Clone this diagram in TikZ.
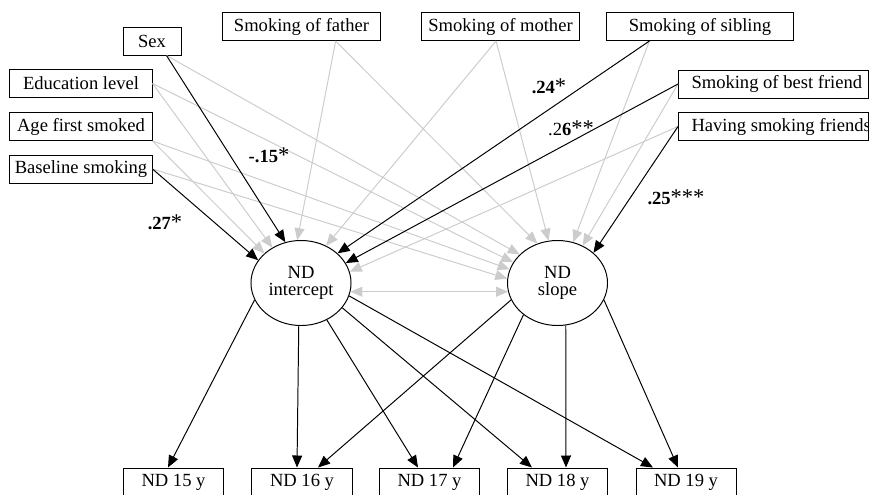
\documentclass[tikz,border=0pt]{standalone}
\usepackage{fontspec}
\setmainfont{Liberation Serif}
\usetikzlibrary{arrows.meta,shapes.geometric}
\newcommand\colorSig{black}
\newcommand\colorNonsig{black!20}
\newcommand\px{0.025cm}
\newcommand\tipSize{length=0.3cm,width=0.25cm}
\newcommand\sigStar{{\fontsize{16}{16}\selectfont*}}

\begin{document}
\begin{tikzpicture}[x=\px, y=-\px,
	every node/.style={font=\fontsize{13.2}{15}\selectfont},
	varbox/.style={draw, line width=0.7pt, minimum height=0.7cm, inner sep=0pt},
	latent/.style={draw, ellipse, line width=0.7pt, minimum width=2.5cm, minimum height=2.125cm,
		inner sep=0pt, align=center, font=\fontsize{13.2}{12}\selectfont},
	sig/.style={draw=\colorSig, line width=0.7pt, -{Triangle[\tipSize]}},
	nonsig/.style={draw=\colorNonsig, line width=0.7pt, -{Triangle[\tipSize]}},
	coef/.style={inner sep=0pt}]
	\useasboundingbox (0,0) rectangle (869,494);
	\clip (0,0) rectangle (869,494);
	
	% predictors
	\node[varbox, minimum width=1.45cm] (sex) at (152,41) {Sex};
	\node[varbox, minimum width=3.55cm] (edu) at (81,83.5) {Education level};
	\node[varbox, minimum width=3.55cm] (age) at (81,126.5) {Age first smoked};
	\node[varbox, minimum width=3.55cm] (base) at (81,169) {Baseline smoking};
	\node[varbox, minimum width=3.925cm] (father) at (301.5,26.5) {Smoking of father};
	\node[varbox, minimum width=3.925cm] (mother) at (500.5,26.5) {Smoking of mother};
	\node[varbox, minimum width=4.65cm] (sibling) at (700,26.5) {Smoking of sibling};
	\node[varbox, inner xsep=0.325cm, anchor=west] (best) at (678,84) {\makebox[4.1cm][l]{Smoking of best friend}};
	\node[varbox, inner xsep=0.325cm, anchor=west] (having) at (678,126.5) {\makebox[4.1cm][l]{Having smoking friends}};
	
	% growth factors
	\node[latent] (int) at (301,283) {ND\\intercept};
	\node[latent] (slope) at (557.5,283) {ND\\slope};
	
	% outcomes
	\foreach \i/\x in {15/173.5, 16/302, 17/429.5, 18/557.5, 19/686}{
		\node[varbox, minimum width=2.5cm] (nd\i) at (\x,482) {ND \i\ y};
	}
	
	% non-significant paths
	\draw[nonsig] (edu.east) to (int.129);
	\draw[nonsig] (age.south east) to (int.141);
	\draw[nonsig] (father.-23) to (int.95);
	\draw[nonsig] (mother.-107) to (int.56);
	\draw[nonsig] (having.west) to (int.13);
	\foreach \src/\ang in {sex.-45/143, edu.east/155, age.south east/164, base.east/175,
		father.-23/117, mother.-107/102, sibling.-164/69, best.west/56}{
		\draw[nonsig] (\src) to (slope.\ang);
	}
	\draw[nonsig, {Triangle[\tipSize]}-{Triangle[\tipSize]}] (int.-10) to (slope.190);
	
	% significant paths
	\draw[sig] (sex.-45) to (int.111);
	\draw[sig] (base.east) to (int.152);
	\draw[sig] (sibling.-164) to (int.39);
	\draw[sig] (best.west) to (int.24);
	\draw[sig] (having.west) to (slope.40);
	
	\node[coef] (cSex) at (269,155) {\textbf{-.15}\sigStar};
	\node[coef] (cBase) at (165,222) {\textbf{.27}\sigStar};
	\node[coef] (cSibling) at (549,86) {\textbf{.24}\sigStar};
	\node[coef] (cBest) at (571,128) {.2\textbf{6}\sigStar\sigStar};
	\node[coef] (cHaving) at (676,197) {\textbf{.25}\sigStar\sigStar\sigStar};
	
	% loadings
	\foreach \ang/\i/\s in {200/15/-5.5, 267/16/-5, 305/17/-11.5, 329/18/-25.5, 345/19/-33}{
		\draw[sig] (int.\ang) to ([xshift=\s*\px]nd\i.north);
	}
	\foreach \ang/\i/\s in {200/16/16, 223/17/23.5, 281/18/8.5, 340/19/-8}{
		\draw[sig] (slope.\ang) to ([xshift=\s*\px]nd\i.north);
	}
\end{tikzpicture}
\end{document}
